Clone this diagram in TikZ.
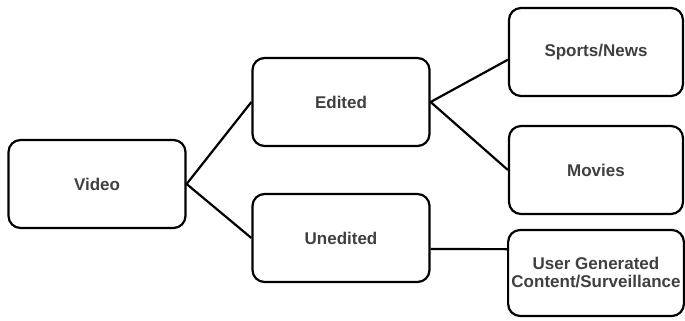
\documentclass[tikz,border=0pt]{standalone}
\usepackage{fontspec}
\setmainfont{Liberation Sans}
\usetikzlibrary{positioning}

\begin{document}
\begin{tikzpicture}[x=1pt, y=1pt,
    box/.style={draw, line width=2.2pt, rounded corners=12pt, fill=white,
        minimum width=177pt, minimum height=88pt, align=center,
        font=\fontsize{17}{20}\selectfont\bfseries, text=black!75},
    link/.style={line width=2.2pt}]
    % Bounding box
    \useasboundingbox (0,0) rectangle (685,321);

    % Boxes
    \node[box] (video) at (97, 137) {Video};
    \node[box] (edited) at (341, 219) {Edited};
    \node[box] (unedited) at (341, 83) {Unedited};
    \node[box, minimum width=174pt] (sports) at (596, 269) {Sports/News};
    \node[box, minimum width=174pt] (movies) at (596, 151) {Movies};
    \node[box, minimum width=174pt, minimum height=86pt] (ugc) at (596, 48)
        {User Generated\\[-2pt]Content/Surveillance};

    % Links
    \draw[link] (video.east) -- (edited.west);
    \draw[link] (video.east) -- (unedited.west);
    \draw[link] (edited.east) -- (sports.185);
    \draw[link] (edited.east) -- (movies.west);
    \draw[link] (unedited.-7) -- (ugc.165);
\end{tikzpicture}
\end{document}
